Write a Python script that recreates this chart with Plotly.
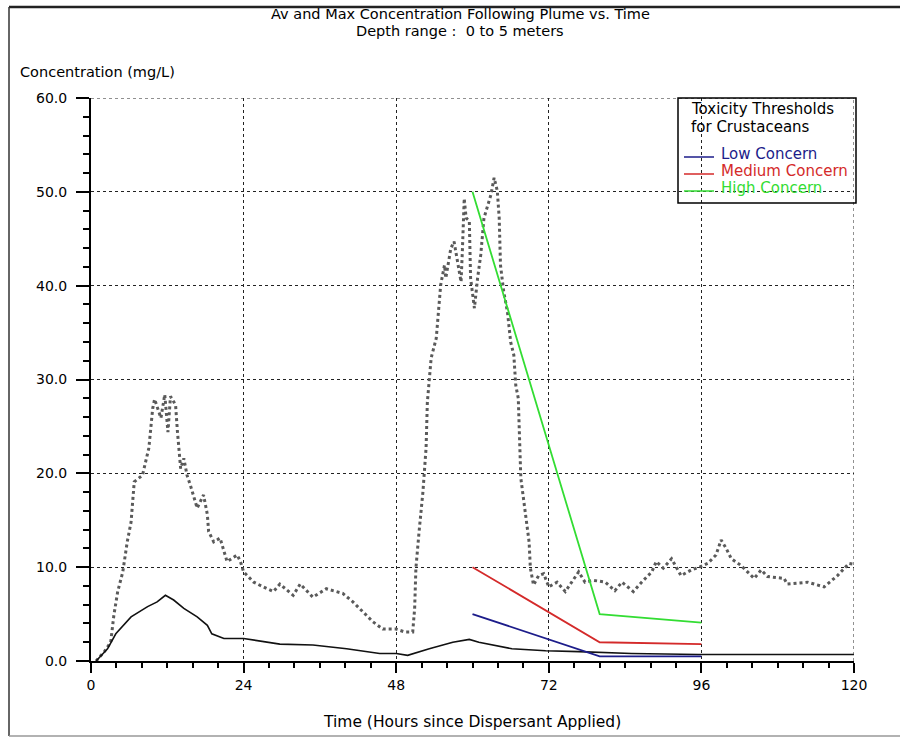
import plotly.graph_objects as go

# ---- data ----
max_hours = [0.8, 2.1, 3.1, 3.6, 4.2, 5.0, 5.7, 6.3, 6.8, 8.1, 9.1, 9.7, 10.0, 11.0, 11.6, 12.1, 12.5, 13.3,
             13.6, 14.1, 14.6, 15.1, 15.6, 16.7, 17.7, 18.3, 18.5, 19.3, 20.3, 21.4, 23.0, 23.5, 24.0, 25.6,
             27.7, 28.7, 29.7, 31.8, 32.9, 34.9, 37.0, 39.6, 41.2, 42.8, 44.3, 45.9, 48.0, 49.3, 50.6, 50.9,
             51.1, 51.6, 52.2, 52.7, 52.9, 53.5, 54.3, 55.0, 55.6, 55.8, 56.6, 57.1, 57.6, 58.2, 58.4, 58.7,
             59.0, 59.5, 59.7, 60.3, 60.8, 61.3, 61.8, 62.3, 62.9, 63.4, 63.9, 64.2, 64.4, 64.9, 65.5, 66.0,
             66.5, 66.8, 67.2, 67.6, 68.3, 68.9, 69.1, 69.6, 70.4, 71.2, 72.0, 73.3, 74.6, 76.7, 77.7, 79.0,
             80.9, 82.4, 83.5, 85.3, 86.6, 88.2, 88.9, 90.0, 91.3, 92.8, 94.4, 95.7, 97.0, 98.3, 99.1, 99.9,
             100.7, 102.2, 104.3, 105.4, 106.4, 109.0, 109.5, 112.7, 115.3, 117.4, 119.2, 120.0]
max_conc = [0.0, 1.0, 2.0, 4.9, 7.4, 9.5, 12.7, 14.8, 19.1, 19.8, 22.7, 26.9, 27.9, 25.9, 28.4, 24.4, 28.2, 27.3,
            24.4, 20.5, 21.6, 19.8, 18.8, 16.3, 17.7, 15.6, 13.8, 12.7, 13.1, 10.6, 11.3, 10.6, 9.5, 8.4,
            7.7, 7.4, 8.2, 7.0, 8.2, 6.8, 7.7, 7.2, 6.3, 5.2, 4.2, 3.4, 3.4, 3.1, 3.1, 5.6,
            9.9, 13.8, 18.0, 22.7, 27.6, 32.3, 34.4, 40.1, 42.2, 40.8, 44.0, 44.7, 42.9, 40.4, 43.6, 49.3,
            47.2, 46.9, 40.8, 37.6, 40.8, 43.3, 47.2, 48.3, 49.7, 51.5, 50.1, 47.2, 42.2, 39.4, 37.2, 34.0,
            32.6, 29.4, 28.0, 19.5, 15.9, 12.7, 9.9, 8.1, 9.1, 9.3, 7.9, 8.4, 7.4, 9.5, 8.4, 8.6,
            8.4, 7.5, 8.4, 7.4, 8.4, 9.5, 10.6, 9.9, 10.9, 9.1, 9.7, 10.0, 10.4, 11.3, 12.9, 12.0,
            10.9, 10.2, 8.8, 9.7, 9.0, 8.8, 8.2, 8.4, 7.9, 9.1, 10.4, 10.3]

avg_hours = [0.8, 1.6, 2.6, 3.9, 4.7, 6.3, 8.9, 10.4, 11.7, 13.0, 14.6, 16.7, 18.3, 19.0, 20.9, 24.0,
             29.7, 34.9, 40.2, 45.4, 48.0, 49.8, 53.2, 56.9, 59.5, 61.0, 66.2, 71.5, 76.7, 85.0, 95.5, 120.0]
avg_conc = [0.0, 0.6, 1.3, 2.9, 3.5, 4.7, 5.8, 6.3, 7.0, 6.5, 5.6, 4.7, 3.8, 2.9, 2.4, 2.4,
            1.8, 1.7, 1.3, 0.8, 0.8, 0.6, 1.3, 2.0, 2.3, 2.0, 1.3, 1.1, 1.0, 0.8, 0.7, 0.7]

thr_hours = [60, 80, 96]
low_concern = [5.0, 0.5, 0.5]
medium_concern = [10.0, 2.0, 1.8]
high_concern = [50.0, 5.0, 4.1]

legend_names = ["Low Concern", "Medium Concern", "High Concern"]
legend_colors = ["#1c1c8a", "#d42a2a", "#33dd33"]

x_ticks = [0, 24, 48, 72, 96, 120]
y_ticks = [0, 10, 20, 30, 40, 50, 60]
y_tick_text = ["0.0", "10.0", "20.0", "30.0", "40.0", "50.0", "60.0"]

# ---- layout geometry ----
W, H = 900, 738
L, R, T, B = 91, 854, 98, 661
FONT = "DejaVu Sans"


def px(x):
    return (x - L) / (R - L)


def py(y):
    return (B - y) / (B - T)


fig = go.Figure()

fig.add_trace(go.Scatter(x=max_hours, y=max_conc, mode="lines",
                         line=dict(color="#5a5a5a", width=3, dash="dot"),
                         showlegend=False, hoverinfo="x+y"))
fig.add_trace(go.Scatter(x=avg_hours, y=avg_conc, mode="lines",
                         line=dict(color="#111111", width=1.6),
                         showlegend=False, hoverinfo="x+y"))
for name, vals, col in zip(legend_names, [low_concern, medium_concern, high_concern], legend_colors):
    fig.add_trace(go.Scatter(x=thr_hours, y=vals, mode="lines", name=name,
                             line=dict(color=col, width=1.8), showlegend=False))

axis_common = dict(
    showline=True, linecolor="black", linewidth=2,
    showgrid=True, gridcolor="#222222", gridwidth=1, griddash="dot",
    zeroline=False, ticks="outside", tickcolor="black", tickwidth=1.5,
    tickfont=dict(family=FONT, size=14, color="black"),
)

fig.update_xaxes(range=[0, 120], tickvals=x_ticks, ticklen=10,
                 minor=dict(dtick=4, ticklen=5, tickcolor="black", tickwidth=1.5, ticks="outside", showgrid=False),
                 **axis_common)
fig.update_yaxes(range=[0, 60], tickvals=y_ticks, ticktext=y_tick_text, ticklen=13,
                 ticklabelstandoff=6,
                 minor=dict(dtick=2, ticklen=6, tickcolor="black", tickwidth=1.5, ticks="outside", showgrid=False),
                 **axis_common)

annotations = [
    dict(text="Av and Max Concentration Following Plume vs. Time", x=px(460), y=py(14), font=dict(size=14.5)),
    dict(text="Depth range :  0 to 5 meters", x=px(460), y=py(31.5), font=dict(size=14.5)),
    dict(text="Concentration (mg/L)", x=px(18), y=py(72), xanchor="left", font=dict(size=14.5)),
    dict(text="Time (Hours since Dispersant Applied)", x=px(472), y=py(722), font=dict(size=15.5)),
    dict(text="Toxicity Thresholds", x=px(689), y=py(109), xanchor="left", font=dict(size=15)),
    dict(text="for Crustaceans", x=px(689), y=py(127), xanchor="left", font=dict(size=15)),
]
leg_y = [154, 171, 188]
for name, col, yy in zip(legend_names, legend_colors, leg_y):
    annotations.append(dict(text=name, x=px(719), y=py(yy), xanchor="left", font=dict(color=col, size=15)))

for a in annotations:
    a.setdefault("xanchor", "center")
    a.update(xref="paper", yref="paper", yanchor="middle", showarrow=False)
    f = dict(family=FONT, size=13, color="black")
    f.update(a.get("font", {}))
    a["font"] = f

shapes = [
    # edge gridlines (top at 60, right at 120)
    dict(type="line", xref="x", yref="y", x0=0, x1=120, y0=60, y1=60,
         line=dict(color="#222222", width=1, dash="dot")),
    dict(type="line", xref="x", yref="y", x0=120, x1=120, y0=0, y1=60,
         line=dict(color="#222222", width=1, dash="dot")),
    # legend box
    dict(type="rect", x0=px(678), x1=px(856), y0=py(98), y1=py(203),
         line=dict(color="black", width=1.5), fillcolor="rgba(0,0,0,0)"),
    # figure frame
    dict(type="line", x0=px(9), x1=px(900), y0=py(7), y1=py(7), line=dict(color="#222222", width=2.5)),
    dict(type="line", x0=px(9), x1=px(9), y0=py(7), y1=py(736), line=dict(color="#333333", width=1.5)),
    dict(type="line", x0=px(9), x1=px(900), y0=py(736), y1=py(736), line=dict(color="#999999", width=1.5)),
]
for col, yy in zip(legend_colors, leg_y):
    shapes.append(dict(type="line", x0=px(684), x1=px(714), y0=py(yy + 3), y1=py(yy + 3),
                       line=dict(color=col, width=1.5)))
for a in shapes:
    a.setdefault("xref", "paper")
    a.setdefault("yref", "paper")

fig.update_layout(
    width=W, height=H,
    margin=dict(l=L, r=W - R, t=T, b=H - B),
    paper_bgcolor="white", plot_bgcolor="white",
    annotations=annotations, shapes=shapes,
    showlegend=False,
    font=dict(family=FONT, size=13, color="black"),
)

fig.write_html("out.html")
